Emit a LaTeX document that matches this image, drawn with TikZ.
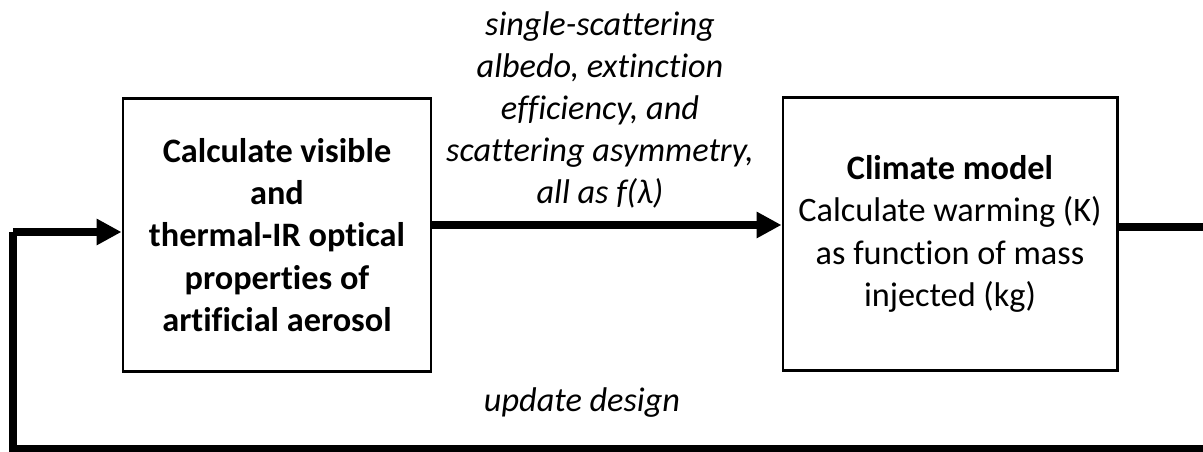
\documentclass[tikz,border=0pt]{standalone}
\usepackage{fontspec}
\setmainfont{Carlito}[Ligatures=NoCommon]
\usetikzlibrary{arrows.meta,positioning}
\begin{document}
\begin{tikzpicture}[
        stagebox/.style={draw, line width=1.7pt, align=center, minimum height=5.47cm,
            font=\fontsize{19.5}{24}\selectfont},
        flowline/.style={line width=4.5pt, -{Triangle[length=0.5cm, width=0.5cm]}},
        loopline/.style={line width=4pt},
        flowlabel/.style={align=center, font=\fontsize{19.5}{24}\selectfont\itshape}
    ]
        \useasboundingbox (0, 0) rectangle (24.06, 9.04);
        \clip (0, 0) rectangle (24.06, 9.04);
        % the two stages
        \node[stagebox, minimum width=6.16cm] (optics) at (5.54, 4.34)
            {\textbf{Calculate visible}\\ \textbf{and}\\ \textbf{thermal-IR optical}\\
             \textbf{properties of}\\ \textbf{artificial aerosol}};
        \node[stagebox, minimum width=6.68cm] (climate) at (19.0, 4.36)
            {\textbf{Climate model}\\ Calculate warming (K)\\ as function of mass\\ injected (kg)};
        % forward arrow
        \coordinate (fwd) at (0, 4.54);
        \draw[flowline] (optics.east |- fwd) -- (climate.west |- fwd);
        \node[flowlabel] (props) at (12.0, 6.84)
            {single-scattering\\ albedo, extinction\\ efficiency, and\\ scattering asymmetry,\\ all as f(λ)};
        % feedback loop, closed off the page
        \coordinate (out) at (24.4, 4.5);
        \coordinate (corner) at (24.4, 0.06);
        \coordinate (back) at (0.26, 0.06);
        \coordinate (entry) at (0.26, 4.4);
        \draw[loopline] (climate.east |- out) -- (out) -- (corner) -- (back) -- (entry);
        \draw[flowline, line width=4pt] (entry) -- (optics.west |- entry);
        \node[flowlabel] (update) at (11.64, 0.98) {update design};
    \end{tikzpicture}
\end{document}
